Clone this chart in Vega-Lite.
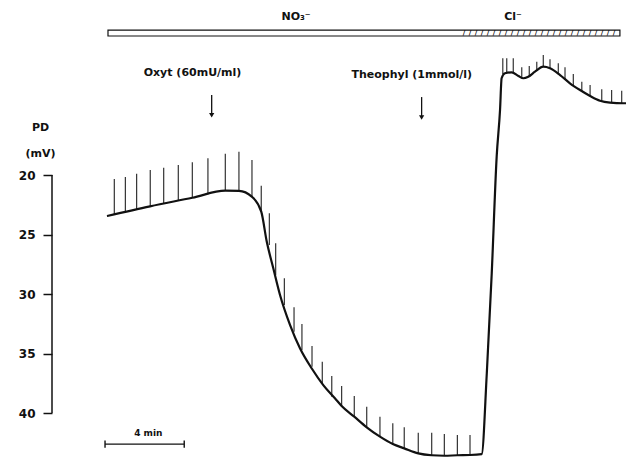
{
  "$schema": "https://vega.github.io/schema/vega-lite/v6.json",
  "width": 574,
  "height": 458,
  "autosize": {"type": "none"},
  "padding": {"left": 52, "top": 0, "right": 0, "bottom": 0},
  "background": "white",
  "config": {"view": {"stroke": null}},
  "datasets": {
    "curve": [
      {"t": 0.0, "pd": 23.45}, {"t": 2.18, "pd": 22.63}, {"t": 4.32, "pd": 21.91}, {"t": 5.99, "pd": 21.32},
      {"t": 6.68, "pd": 21.34}, {"t": 7.33, "pd": 21.82}, {"t": 7.81, "pd": 23.08}, {"t": 8.09, "pd": 25.61},
      {"t": 8.42, "pd": 27.84}, {"t": 8.76, "pd": 30.08}, {"t": 9.27, "pd": 32.61}, {"t": 9.77, "pd": 34.56},
      {"t": 10.36, "pd": 36.24}, {"t": 10.95, "pd": 37.65}, {"t": 11.54, "pd": 38.76}, {"t": 11.88, "pd": 39.41},
      {"t": 12.52, "pd": 40.31}, {"t": 13.15, "pd": 41.2}, {"t": 13.82, "pd": 41.99}, {"t": 14.47, "pd": 42.61},
      {"t": 15.05, "pd": 42.97}, {"t": 15.76, "pd": 43.39}, {"t": 16.44, "pd": 43.55}, {"t": 17.08, "pd": 43.59},
      {"t": 17.74, "pd": 43.55}, {"t": 18.38, "pd": 43.53}, {"t": 18.97, "pd": 43.45}, {"t": 19.23, "pd": 36.66},
      {"t": 19.48, "pd": 28.26}, {"t": 19.73, "pd": 18.46}, {"t": 19.9, "pd": 14.54}, {"t": 19.98, "pd": 11.87},
      {"t": 20.15, "pd": 11.45}, {"t": 20.49, "pd": 11.37}, {"t": 20.83, "pd": 11.68}, {"t": 21.08, "pd": 11.87},
      {"t": 21.33, "pd": 11.74}, {"t": 21.67, "pd": 11.32}, {"t": 22.09, "pd": 10.9}, {"t": 22.43, "pd": 11.03},
      {"t": 22.94, "pd": 11.6}, {"t": 23.44, "pd": 12.29}, {"t": 23.95, "pd": 12.86}, {"t": 24.46, "pd": 13.36},
      {"t": 24.96, "pd": 13.76}, {"t": 25.47, "pd": 13.92}, {"t": 26.14, "pd": 13.97}, {"t": 26.28, "pd": 13.97}
    ],
    "spikes": [
      {"t": 0.37, "pd": 23.3, "pd2": 20.34}, {"t": 0.93, "pd": 23.08, "pd2": 20.17}, {"t": 1.5, "pd": 22.88, "pd2": 19.89},
      {"t": 2.19, "pd": 22.63, "pd2": 19.58}, {"t": 2.87, "pd": 22.41, "pd2": 19.39}, {"t": 3.61, "pd": 22.16, "pd2": 19.16},
      {"t": 4.32, "pd": 21.91, "pd2": 18.93}, {"t": 5.11, "pd": 21.62, "pd2": 18.6}, {"t": 5.99, "pd": 21.32, "pd2": 18.21},
      {"t": 6.68, "pd": 21.34, "pd2": 18.04}, {"t": 7.34, "pd": 21.82, "pd2": 18.74}, {"t": 7.81, "pd": 23.08, "pd2": 20.9},
      {"t": 8.22, "pd": 25.88, "pd2": 23.22}, {"t": 8.54, "pd": 28.4, "pd2": 25.74}, {"t": 8.98, "pd": 30.92, "pd2": 28.68},
      {"t": 9.47, "pd": 33.17, "pd2": 31.12}, {"t": 9.87, "pd": 34.71, "pd2": 32.52}, {"t": 10.38, "pd": 36.11, "pd2": 34.37},
      {"t": 10.9, "pd": 37.5, "pd2": 35.69}, {"t": 11.38, "pd": 38.63, "pd2": 36.89}, {"t": 11.88, "pd": 39.41, "pd2": 37.73},
      {"t": 12.52, "pd": 40.31, "pd2": 38.57}, {"t": 13.15, "pd": 41.2, "pd2": 39.47}, {"t": 13.82, "pd": 41.99, "pd2": 40.31},
      {"t": 14.47, "pd": 42.61, "pd2": 40.87}, {"t": 15.05, "pd": 42.97, "pd2": 41.2}, {"t": 15.76, "pd": 43.39, "pd2": 41.65},
      {"t": 16.44, "pd": 43.55, "pd2": 41.65}, {"t": 17.08, "pd": 43.59, "pd2": 41.76}, {"t": 17.74, "pd": 43.55, "pd2": 41.85},
      {"t": 18.38, "pd": 43.53, "pd2": 41.85},
      {"t": 20.04, "pd": 11.51, "pd2": 10.19}, {"t": 20.24, "pd": 11.4, "pd2": 10.19}, {"t": 20.57, "pd": 11.4, "pd2": 10.19},
      {"t": 21.0, "pd": 11.79, "pd2": 10.95}, {"t": 21.38, "pd": 11.74, "pd2": 10.84}, {"t": 21.76, "pd": 11.24, "pd2": 10.48},
      {"t": 22.09, "pd": 10.9, "pd2": 9.92}, {"t": 22.43, "pd": 11.03, "pd2": 10.28}, {"t": 22.85, "pd": 11.51, "pd2": 10.61},
      {"t": 23.19, "pd": 11.98, "pd2": 10.95}, {"t": 23.61, "pd": 12.44, "pd2": 11.51}, {"t": 24.04, "pd": 13.0, "pd2": 12.16},
      {"t": 24.46, "pd": 13.36, "pd2": 12.44}, {"t": 25.05, "pd": 13.76, "pd2": 12.8}, {"t": 25.55, "pd": 13.92, "pd2": 12.86},
      {"t": 26.06, "pd": 13.98, "pd2": 12.92}
    ],
    "hatch": [
      {"t": 18.08, "pd": 8.07}, {"t": 18.38, "pd": 8.07}, {"t": 18.69, "pd": 8.07}, {"t": 18.99, "pd": 8.07},
      {"t": 19.29, "pd": 8.07}, {"t": 19.6, "pd": 8.07}, {"t": 19.9, "pd": 8.07}, {"t": 20.2, "pd": 8.07},
      {"t": 20.51, "pd": 8.07}, {"t": 20.81, "pd": 8.07}, {"t": 21.11, "pd": 8.07}, {"t": 21.42, "pd": 8.07},
      {"t": 21.72, "pd": 8.07}, {"t": 22.03, "pd": 8.07}, {"t": 22.33, "pd": 8.07}, {"t": 22.63, "pd": 8.07},
      {"t": 22.94, "pd": 8.07}, {"t": 23.24, "pd": 8.07}, {"t": 23.54, "pd": 8.07}, {"t": 23.85, "pd": 8.07},
      {"t": 24.15, "pd": 8.07}, {"t": 24.46, "pd": 8.07}, {"t": 24.76, "pd": 8.07}, {"t": 25.06, "pd": 8.07},
      {"t": 25.37, "pd": 8.07}, {"t": 25.67, "pd": 8.07}
    ],
    "labels": [
      {"t": 9.57, "pd": 6.72, "label": "NO₃⁻"},
      {"t": 20.56, "pd": 6.72, "label": "Cl⁻"},
      {"t": 4.33, "pd": 11.45, "label": "Oxyt (60mU/ml)"},
      {"t": 15.43, "pd": 11.6, "label": "Theophyl (1mmol/l)"}
    ],
    "arrows": [
      {"t": 5.3, "pd": 13.28, "pd2": 14.9},
      {"t": 15.93, "pd": 13.45, "pd2": 15.1}
    ],
    "heads": [
      {"t": 5.3, "pd": 14.98},
      {"t": 15.93, "pd": 15.17}
    ]
  },
  "encoding": {
    "x": {"field": "t", "type": "quantitative", "scale": {"domain": [-2.785, 26.278], "nice": false, "zero": false}, "axis": null},
    "y": {
      "field": "pd", "type": "quantitative",
      "scale": {"domain": [5.294, 43.78], "reverse": true, "nice": false, "zero": false},
      "axis": {
        "values": [20, 25, 30, 35, 40],
        "domain": false, "grid": false,
        "ticks": true, "tickSize": 9, "tickWidth": 1.5, "tickColor": "#111",
        "labelFont": "DejaVu Sans", "labelFontSize": 12, "labelFontWeight": "bold", "labelColor": "#111", "labelPadding": 8,
        "title": ["PD", "(mV)"], "titleAngle": 0, "titleX": -12, "titleY": 121, "titleAlign": "center", "titleBaseline": "top",
        "titleFont": "DejaVu Sans", "titleFontSize": 11, "titleFontWeight": "bold", "titleColor": "#111", "titleLineHeight": 26
      }
    }
  },
  "layer": [
    {
      "data": {"values": [{"t": 0.05, "t2": 25.97, "pd": 7.82, "pd2": 8.32}]},
      "mark": {"type": "rect", "fill": "white", "stroke": "#111", "strokeWidth": 1.2},
      "encoding": {"x2": {"field": "t2"}, "y2": {"field": "pd2"}}
    },
    {
      "data": {"name": "hatch"},
      "mark": {"type": "text", "text": "/", "font": "DejaVu Sans", "fontSize": 7, "fontWeight": "bold", "align": "center", "baseline": "middle", "fill": "#111", "opacity": 1},
      "encoding": {}
    },
    {
      "data": {"name": "labels"},
      "mark": {"type": "text", "font": "DejaVu Sans", "fontSize": 11, "fontWeight": "bold", "align": "center", "baseline": "middle", "color": "#111"},
      "encoding": {"text": {"field": "label"}}
    },
    {
      "data": {"name": "arrows"},
      "mark": {"type": "rule", "stroke": "#111", "strokeWidth": 1.3},
      "encoding": {"y2": {"field": "pd2"}}
    },
    {
      "data": {"name": "heads"},
      "mark": {"type": "point", "shape": "triangle-down", "size": 28, "filled": true, "color": "#111", "opacity": 1},
      "encoding": {}
    },
    {
      "data": {"values": [{"t": -0.1, "t2": 3.91, "pd": 42.61}]},
      "mark": {"type": "rule", "stroke": "#111", "strokeWidth": 1.4},
      "encoding": {"x2": {"field": "t2"}}
    },
    {
      "data": {"values": [{"t": -0.1, "pd": 42.3, "pd2": 42.92}, {"t": 3.91, "pd": 42.3, "pd2": 42.92}]},
      "mark": {"type": "rule", "stroke": "#111", "strokeWidth": 1.4},
      "encoding": {"y2": {"field": "pd2"}}
    },
    {
      "data": {"values": [{"t": 2.09, "pd": 41.68, "label": "4 min"}]},
      "mark": {"type": "text", "font": "DejaVu Sans", "fontSize": 9, "fontWeight": "bold", "align": "center", "baseline": "middle", "color": "#111"},
      "encoding": {"text": {"field": "label"}}
    },
    {
      "data": {"values": [{"pd": 20, "pd2": 40}]},
      "mark": {"type": "rule", "stroke": "#111", "strokeWidth": 1.5},
      "encoding": {"x": {"value": 0}, "y2": {"field": "pd2"}}
    },
    {
      "data": {"name": "spikes"},
      "mark": {"type": "rule", "stroke": "#333", "strokeWidth": 1.2},
      "encoding": {"y2": {"field": "pd2"}}
    },
    {
      "data": {"name": "curve"},
      "mark": {"type": "line", "stroke": "#111", "strokeWidth": 2.2, "interpolate": "monotone"},
      "encoding": {}
    }
  ]
}
